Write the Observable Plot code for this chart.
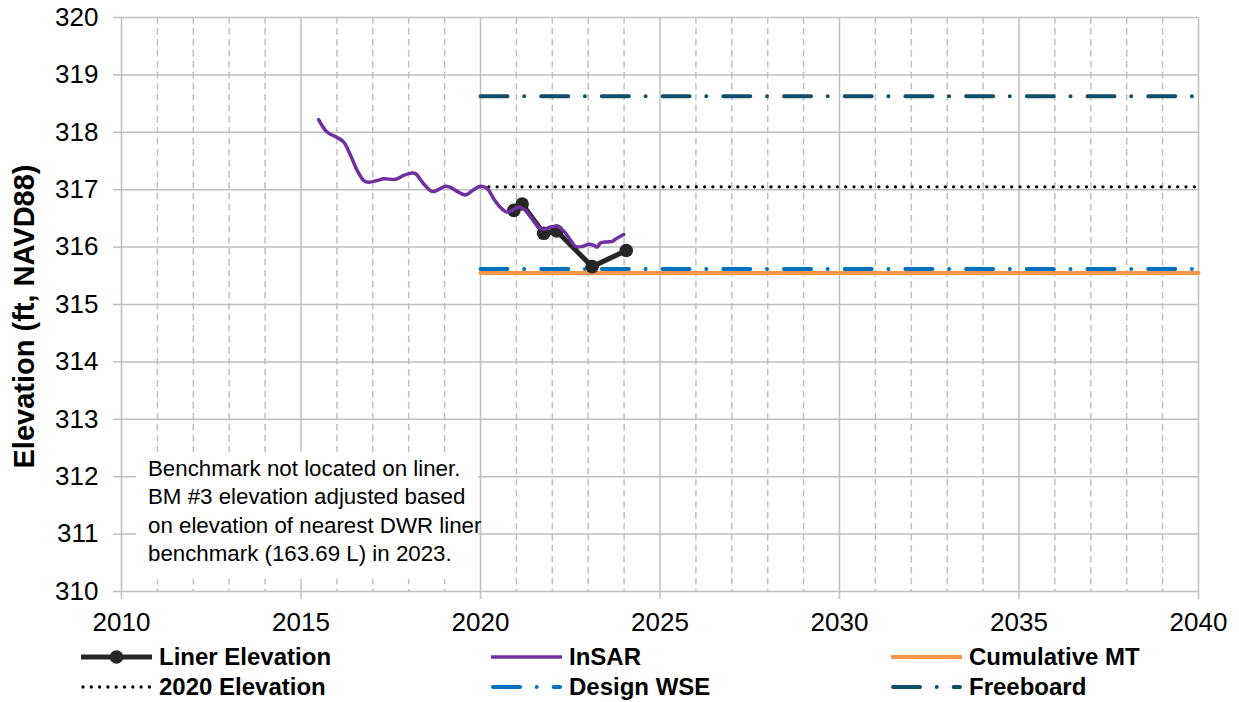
<!DOCTYPE html>
<html>
<head>
<meta charset="utf-8">
<script src="https://cdn.jsdelivr.net/npm/d3@7"></script>
<script src="https://cdn.jsdelivr.net/npm/@observablehq/plot@0.6"></script>
<style>
  html, body { margin: 0; padding: 0; background: #fff; }
  #wrap { position: relative; width: 1239px; height: 702px; font-family: "Liberation Sans", Arial, sans-serif; }
  #note { position: absolute; left: 136px; top: 452px; width: 330px; height: 124px; background: #fff; white-space: nowrap;
          padding: 3px 0 0 12px; font-size: 22.3px; line-height: 28.4px; color: #000; }
  .leg { position: absolute; display: flex; align-items: center; font-weight: bold; font-size: 24px; color: #000; height: 30px; }
  .leg svg { margin-right: 7px; }
</style>
</head>
<body>
<div id="wrap"></div>
<script>
// ---------------- data ----------------
const xMajorTicks = [2010, 2015, 2020, 2025, 2030, 2035, 2040];
const xMinorTicks = d3.range(2010, 2041).filter(y => y % 5 !== 0);
const yTicks = [310, 311, 312, 313, 314, 315, 316, 317, 318, 319, 320];

const linerYears  = [2020.93, 2021.16, 2021.76, 2022.12, 2023.11, 2024.06];
const linerValues = [316.64, 316.75, 316.24, 316.28, 315.66, 315.94];

const insarYears = [2015.49, 2015.73, 2016.01, 2016.19, 2016.38, 2016.57, 2016.75, 2016.89, 2017.12, 2017.31,
  2017.63, 2017.86, 2018.10, 2018.19, 2018.42, 2018.65, 2018.79, 2019.02, 2019.16, 2019.35,
  2019.58, 2019.81, 2020.00, 2020.19, 2020.37, 2020.56, 2020.74, 2020.88, 2021.07, 2021.25,
  2021.44, 2021.62, 2021.76, 2021.95, 2022.14, 2022.32, 2022.51, 2022.65, 2022.83, 2023.02,
  2023.16, 2023.25, 2023.34, 2023.53, 2023.67, 2023.81, 2023.99];
const insarValues = [318.22, 318.00, 317.91, 317.83, 317.60, 317.33, 317.16, 317.13, 317.16, 317.19,
  317.18, 317.25, 317.29, 317.28, 317.10, 316.97, 316.99, 317.06, 317.04, 316.97,
  316.91, 317.00, 317.06, 317.02, 316.84, 316.69, 316.61, 316.64, 316.70, 316.64,
  316.49, 316.35, 316.31, 316.35, 316.36, 316.28, 316.12, 316.01, 316.01, 316.05,
  316.03, 316.00, 316.07, 316.09, 316.10, 316.16, 316.22];

const refYears = [2020, 2040];
const cumulativeMT = [315.55, 315.55];
const elev2020 = [317.05, 317.05];
const designWSE = [315.62, 315.62];
const freeboard = [318.63, 318.63];

const yLabel = "Elevation (ft, NAVD88)";
const noteLines = ["Benchmark not located on liner.", "BM #3 elevation adjusted based",
  "on elevation of nearest DWR liner", "benchmark (163.69 L) in 2023."];

const legendItems = ["Liner Elevation", "InSAR", "Cumulative MT", "2020 Elevation", "Design WSE", "Freeboard"];

// ---------------- styles ----------------
const C = {
  liner: "#262626", insar: "#7030A0", mt: "#F79646", e2020: "#000000", wse: "#0070C0", fb: "#0F4F6B", grid: "#BFBFBF"
};
const dashDot = "27,16.7,0,17";
const dotted = "0,8.3";

const toPts = (xs, ys) => xs.map((x, i) => ({x, y: ys[i]}));

const chart = Plot.plot({
  width: 1239,
  height: 640,
  marginLeft: 121,
  marginRight: 41,
  marginTop: 17,
  marginBottom: 49,
  x: {domain: [2010, 2040]},
  y: {domain: [310, 320]},
  style: {fontFamily: "'Liberation Sans', Arial, sans-serif", fontSize: "26px", color: "#000", background: "#fff"},
  marks: [
    Plot.ruleX(xMinorTicks, {stroke: C.grid, strokeWidth: 1.5, strokeDasharray: "6.5,4.5"}),
    Plot.ruleY(yTicks, {stroke: C.grid, strokeWidth: 1.5}),
    Plot.ruleX(xMajorTicks, {stroke: C.grid, strokeWidth: 1.5}),
    Plot.axisX({ticks: xMajorTicks, tickFormat: d => String(d), tickSize: 8, tickPadding: 13,
                stroke: C.grid, strokeWidth: 1.5, fill: "#000", label: null}),
    Plot.axisY({ticks: yTicks, tickFormat: d => String(d), tickSize: 8, tickPadding: 15,
                stroke: C.grid, strokeWidth: 1.5, fill: "#000", label: null}),
    Plot.text([yLabel], {frameAnchor: "left", textAnchor: "middle", lineAnchor: "middle", rotate: -90,
                         dx: -97, dy: 12, fontWeight: "bold", fontSize: 29, fill: "#000"}),
    Plot.line(toPts(refYears, cumulativeMT), {x: "x", y: "y", stroke: C.mt, strokeWidth: 4}),
    Plot.line(toPts(refYears, designWSE), {x: "x", y: "y", stroke: C.wse, strokeWidth: 4, strokeDasharray: dashDot, strokeLinecap: "round"}),
    Plot.line(toPts(refYears, freeboard), {x: "x", y: "y", stroke: C.fb, strokeWidth: 4, strokeDasharray: dashDot, strokeLinecap: "round"}),
    Plot.line(toPts(refYears, elev2020), {x: "x", y: "y", stroke: C.e2020, strokeWidth: 3.3, strokeDasharray: dotted, strokeLinecap: "round"}),
    Plot.line(toPts(linerYears, linerValues), {x: "x", y: "y", stroke: C.liner, strokeWidth: 5}),
    Plot.dot(toPts(linerYears, linerValues), {x: "x", y: "y", r: 6.8, fill: C.liner}),
    Plot.line(toPts(insarYears, insarValues), {x: "x", y: "y", stroke: C.insar, strokeWidth: 3.5, curve: "catmull-rom"})
  ]
});

const wrap = document.getElementById("wrap");
wrap.appendChild(chart);

// annotation box
const note = document.createElement("div");
note.id = "note";
note.innerHTML = noteLines.join("<br>");
wrap.appendChild(note);

// legend
const legendStyles = [
  {stroke: C.liner, width: 5, dash: null, marker: true},
  {stroke: C.insar, width: 3.5, dash: null},
  {stroke: C.mt, width: 4, dash: null},
  {stroke: C.e2020, width: 3.3, dash: dotted, cap: "round"},
  {stroke: C.wse, width: 4, dash: dashDot, cap: "round"},
  {stroke: C.fb, width: 4, dash: dashDot, cap: "round"}
];
const colLeft = [81, 491, 891];
const rowTop = [642, 672];
legendItems.forEach((name, i) => {
  const s = legendStyles[i];
  const div = document.createElement("div");
  div.className = "leg";
  div.style.left = colLeft[i % 3] + "px";
  div.style.top = rowTop[Math.floor(i / 3)] + "px";
  const sw = 71;
  let svg = `<svg width="${sw}" height="16" viewBox="0 0 ${sw} 16">`;
  const x0 = s.cap === "round" ? 2 : 0, x1 = s.cap === "round" ? sw - 2 : sw;
  svg += `<line x1="${x0}" y1="8" x2="${x1}" y2="8" stroke="${s.stroke}" stroke-width="${s.width}"` +
         (s.dash ? ` stroke-dasharray="${s.dash}"` : "") + (s.cap ? ` stroke-linecap="${s.cap}"` : "") + `/>`;
  if (s.marker) svg += `<circle cx="${sw / 2}" cy="8" r="6.8" fill="${s.stroke}"/>`;
  svg += `</svg>`;
  div.innerHTML = svg + `<span>${name}</span>`;
  wrap.appendChild(div);
});
</script>
</body>
</html>
